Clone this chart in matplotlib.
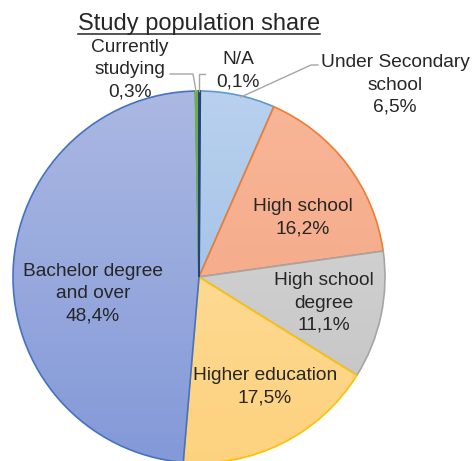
import matplotlib
matplotlib.use('Agg')
import matplotlib.pyplot as plt
import numpy as np
from matplotlib.colors import to_rgb
from matplotlib.lines import Line2D

# ---- data ----
categories = ['N/A', 'Under Secondary\nschool', 'High school', 'High school\ndegree',
              'Higher education', 'Bachelor degree\nand over', 'Currently\nstudying']
shares = [0.1, 6.5, 16.2, 11.1, 17.5, 48.4, 0.3]
pct_labels = ['0,1%', '6,5%', '16,2%', '11,1%', '17,5%', '48,4%', '0,3%']
title = 'Study population share'

# ---- styles ----
fill_top = ['#264478', '#b9d1ee', '#f8b698', '#dadada', '#ffe0a2', '#abb8e2', '#70ad47']
fill_bot = ['#264478', '#94b6e2', '#f3a480', '#c2c2c2', '#fdd27f', '#8399d8', '#70ad47']
edge_colors = ['#264478', '#5b9bd5', '#ed7d31', '#a5a5a5', '#ffc000', '#4472c4', '#70ad47']
edge_widths = [1.4, 1.2, 1.2, 1.2, 1.2, 1.2, 1.4]
text_color = '#262626'
FONT = 'Liberation Sans'

W, H = 476, 461
fig = plt.figure(figsize=(W / 100, H / 100), dpi=100)
ax = fig.add_axes([0, 0, 1, 1])
cx, cy_img, R = 199, 277, 186
cy = H - cy_img

wedges, _ = ax.pie(shares, startangle=90, counterclock=False, center=(cx, cy), radius=R)
ax.set_xlim(0, W)
ax.set_ylim(0, H)
ax.set_aspect('auto')
ax.axis('off')

t = np.linspace(0, 1, 256)[:, None]
n = len(wedges)
for i, w in enumerate(wedges):
    c1 = np.array(to_rgb(fill_top[i]))
    c2 = np.array(to_rgb(fill_bot[i]))
    img = (c1[None, None, :] * (1 - t[:, :, None]) + c2[None, None, :] * t[:, :, None])
    z = 2 * i + 1 if i > 0 else 2 * n + 1
    im = ax.imshow(img, extent=(cx - R, cx + R, cy - R, cy + R), origin='upper',
                   aspect='auto', interpolation='bilinear', zorder=z)
    im.set_clip_path(w)
    w.set_facecolor('none')
    w.set_edgecolor(edge_colors[i])
    w.set_linewidth(edge_widths[i])
    w.set_zorder(z + 1)

ax.set_xlim(0, W)
ax.set_ylim(0, H)
ax.set_aspect('auto')

def Y(y):
    return H - y

label_pos = [(238, 71), (395, 85), (303, 218), (324, 303), (265, 387), (93, 294), (130, 70)]
for cat, pct, (x, y) in zip(categories, pct_labels, label_pos):
    ax.text(x, Y(y), cat + '\n' + pct, ha='center', va='center', fontsize=13.8,
            linespacing=1.4, family=FONT, color=text_color, zorder=30)

# leader lines
lc = '#a6a6a6'
ax.plot([170, 193, 196], [Y(74), Y(74), Y(91)], color=lc, lw=1.0, zorder=25)
ax.plot([205, 199, 199], [Y(74), Y(74), Y(91)], color=lc, lw=1.0, zorder=25)
ax.plot([318, 311, 241], [Y(65), Y(65), Y(97)], color=lc, lw=1.0, zorder=25)

# title with underline
tt = ax.text(199, Y(30), title, ha='center', va='baseline', fontsize=17,
             family=FONT, color=text_color, zorder=30)
fig.canvas.draw()
bb = tt.get_window_extent(fig.canvas.get_renderer())
fig.add_artist(Line2D([bb.x0 / W, bb.x1 / W], [(H - 34) / H, (H - 34) / H],
                      transform=fig.transFigure, color=text_color, lw=1.1, zorder=40))

fig.savefig('out.png', dpi=100)
